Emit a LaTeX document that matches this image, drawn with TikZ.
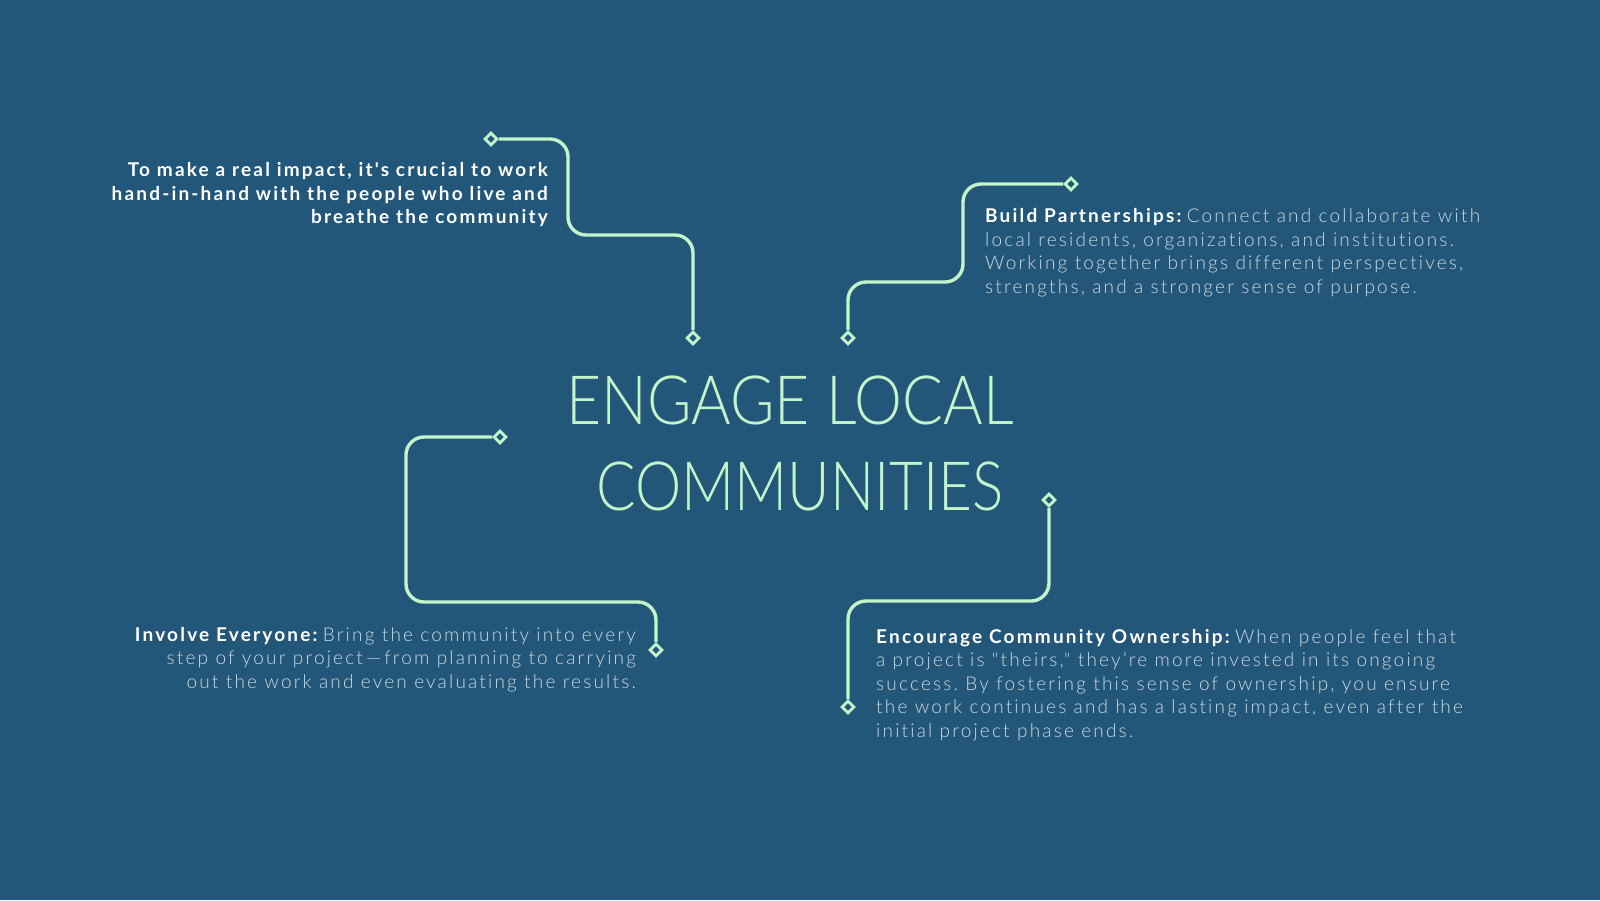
\documentclass[tikz,border=0pt]{standalone}
\usepackage{fontspec}
\setmainfont{Lato}[UprightFont={* Light}, BoldFont={* Bold}, LetterSpace=11.5, Ligatures={TeXOff,NoCommon}]
\newfontfamily\titlefont{Lato}[UprightFont={* Light}, LetterSpace=0]
\usetikzlibrary{shapes.geometric}
\frenchspacing
\definecolor{bg}{HTML}{235779}
\definecolor{mint}{HTML}{C3F5CB}
\definecolor{bodytxt}{HTML}{CCD8E0}
\tikzset{
  conn/.style={draw=mint, line width=3.4pt, rounded corners=18pt},
  tip/.style={diamond, draw=mint, fill=bg, line width=2.8pt, inner sep=0pt, minimum width=13pt, minimum height=13pt},
  para/.style={inner sep=0pt, text=bodytxt, font=\fontsize{19}{23.5}\selectfont},
  titletxt/.style={inner sep=0pt, text=mint, font=\titlefont\fontsize{68}{86}\selectfont, anchor=base}
}
\newcommand{\firststrut}{\rule{0pt}{16pt}}
\begin{document}
\begin{tikzpicture}[x=1pt,y=-1pt]
\fill[bg] (0,0) rectangle (1600,900);
\useasboundingbox (0,0) rectangle (1600,900);

% title
\node[titletxt] (t1) at (790,424) {\scalebox{0.89}[1]{ENGAGE LOCAL}};
\node[titletxt] (t2) at (800,510) {\scalebox{0.86}[1]{COMMUNITIES}};

% diamonds
\node[tip] (d1a) at (491,139) {};
\node[tip] (d1b) at (693,338) {};
\node[tip] (d2a) at (1071,184) {};
\node[tip] (d2b) at (848,338) {};
\node[tip] (d3a) at (500,437) {};
\node[tip] (d3b) at (656,650) {};
\node[tip] (d4a) at (1049,500) {};
\node[tip] (d4b) at (848,707) {};

% connectors
\draw[conn] (d1a) -| (568,235) -| (d1b);
\draw[conn] (d2b) |- (963,282) |- (d2a);
\draw[conn] (d3a) -| (406,602) -| (d3b);
\draw[conn] (d4a) |- (848,601) -- (d4b);

% texts
\node[para, text=white, align=right, anchor=north east] (p1) at (548,160.5)
 {\bfseries\firststrut To make a real impact, it's crucial to work\\
  \bfseries hand-in-hand with the people who live and\\
  \bfseries breathe the community};

\node[para, align=left, anchor=north west] (p2) at (985,206.5)
 {\firststrut\textcolor{white}{\bfseries Build Partnerships:}\hspace{-2pt} Connect and collaborate with\\
  local residents, organizations, and institutions.\\
  Working together brings different perspectives,\\
  strengths, and a stronger sense of purpose.};

\node[para, align=right, anchor=north east] (p3) at (636,625)
 {\firststrut\textcolor{white}{\bfseries Involve Everyone:}\hspace{-2pt} Bring the community into every\\
  step of your project\,—\,from planning to carrying\\
  out the work and even evaluating the results.};

\node[para, align=left, anchor=north west] (p4) at (876,627)
 {\firststrut\textcolor{white}{\bfseries Encourage Community Ownership:}\hspace{-2pt} When people feel that\\
  a project is "theirs," they’re more invested in its ongoing\\
  success. By fostering this sense of ownership, you ensure\\
  the work continues and has a lasting impact, even after the\\
  initial project phase ends.};
\end{tikzpicture}
\end{document}
